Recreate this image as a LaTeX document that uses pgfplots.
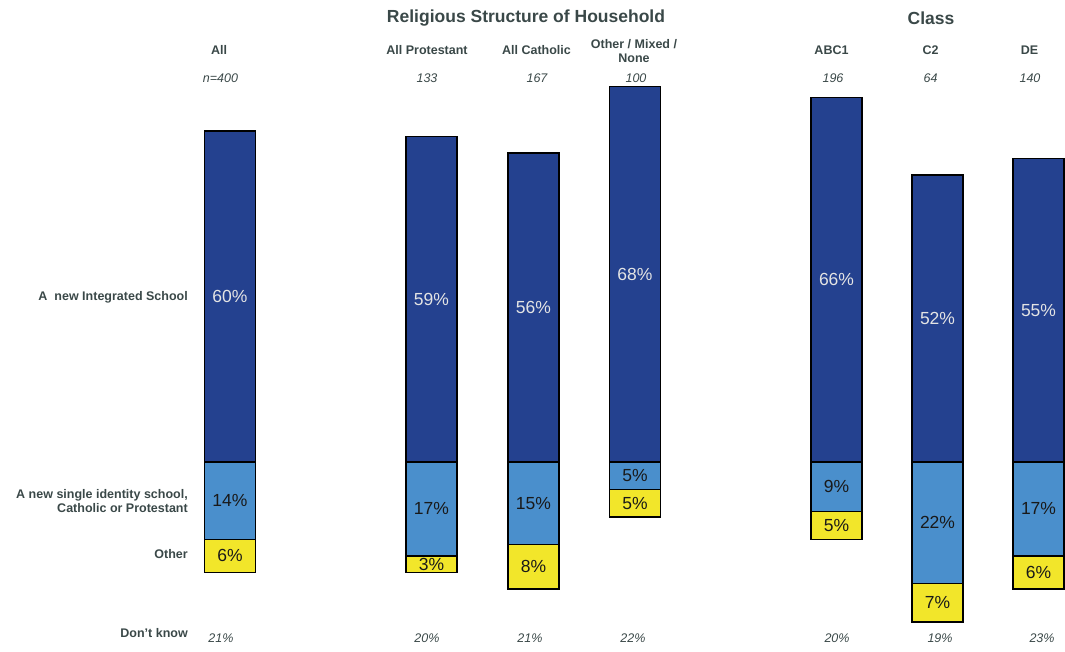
\documentclass[border=0pt]{standalone}
\usepackage{pgfplots}
\pgfplotsset{compat=1.18}
\usepackage{pgfplotstable}
\usepackage{fontspec}
\setmainfont{Liberation Sans}
\definecolor{darkbar}{RGB}{36,65,143}
\definecolor{lightbar}{RGB}{74,143,204}
\definecolor{yellowbar}{RGB}{242,230,42}
\definecolor{txt}{RGB}{58,72,72}
\definecolor{inlab}{RGB}{228,228,228}

\pgfplotstableread{
x      dark light other
230    60   14    6
431.5  59   17    3
533.5  56   15    8
635    68   5     5
836.5  66   9     5
937.5  52   22    7
1038.5 55   17    6
}\datatab

\begin{document}
\begin{tikzpicture}
\begin{axis}[
  at={(0pt,0pt)}, anchor=south west,
  scale only axis, width=1065pt, height=652pt,
  xmin=0, xmax=1065, ymin=-34.42, ymax=83.70,
  hide axis, clip=false,
  bar width=51,
  /pgf/number format/assume math mode=true,
]
% dark blue: new integrated school
\addplot[ybar, bar shift=0pt, fill=darkbar, draw=black, line width=1.4pt]
  table[x=x, y=dark] {\datatab};
% yellow: other (drawn full depth, light blue covers its upper part)
\addplot[ybar, bar shift=0pt, fill=yellowbar, draw=black, line width=1.4pt]
  table[x=x, y expr={-(\thisrow{light}+\thisrow{other})}] {\datatab};
% light blue: single identity
\addplot[ybar, bar shift=0pt, fill=lightbar, draw=black, line width=1.4pt]
  table[x=x, y expr={-\thisrow{light}}] {\datatab};
% labels
\addplot[only marks, mark=none, point meta=explicit,
  nodes near coords={\pgfmathprintnumber{\pgfplotspointmeta}\%},
  every node near coord/.append style={anchor=center, text=inlab, font=\fontsize{17.5}{20}\selectfont}]
  table[x=x, y expr={\thisrow{dark}/2}, meta=dark] {\datatab};
\addplot[only marks, mark=none, point meta=explicit,
  nodes near coords={\pgfmathprintnumber{\pgfplotspointmeta}\%},
  every node near coord/.append style={anchor=center, text=black!90, font=\fontsize{17.5}{20}\selectfont}]
  table[x=x, y expr={-\thisrow{light}/2}, meta=light] {\datatab};
\addplot[only marks, mark=none, point meta=explicit,
  nodes near coords={\pgfmathprintnumber{\pgfplotspointmeta}\%},
  every node near coord/.append style={anchor=center, text=black!90, font=\fontsize{17.5}{20}\selectfont}]
  table[x=x, y expr={-(\thisrow{light}+\thisrow{other}/2)}, meta=other] {\datatab};
\end{axis}

\begin{scope}[x=1pt, y=-1pt, yshift=652pt, every node/.style={text=txt, inner sep=0pt}]
  \begin{scope}[every node/.append style={font=\fontsize{17.5}{20}\selectfont\bfseries}]
    \node at (526,18) {Religious Structure of Household};
    \node at (931,18) {Class};
  \end{scope}
  \begin{scope}[every node/.append style={font=\fontsize{12.5}{14}\selectfont\bfseries}]
    \node at (219,50) {All};
    \node at (427,50) {All Protestant};
    \node at (536.5,50) {All Catholic};
    \node[align=center] at (634,51) {Other / Mixed /\\None};
    \node at (831.5,50) {ABC1};
    \node at (930.5,50) {C2};
    \node at (1029.5,50) {DE};
    \node[anchor=east] at (188,297) {A\ \ new Integrated School};
    \node[anchor=east, align=right] at (188,501) {A new single identity school,\\Catholic or Protestant};
    \node[anchor=east] at (188,554) {Other};
    \node[anchor=east] at (188,633) {Don't know};
  \end{scope}
  \begin{scope}[every node/.append style={font=\fontsize{12.5}{14}\selectfont\itshape}]
    \node at (220.5,78) {n=400};
    \node at (427,78) {133};
    \node at (537,78) {167};
    \node at (636,78) {100};
    \node at (833,78) {196};
    \node at (930.5,78) {64};
    \node at (1030,78) {140};
    \node at (221,638) {21\%};
    \node at (427,638) {20\%};
    \node at (530,638) {21\%};
    \node at (633,638) {22\%};
    \node at (837,638) {20\%};
    \node at (940,638) {19\%};
    \node at (1042,638) {23\%};
  \end{scope}
\end{scope}
\pgfresetboundingbox
\path[use as bounding box] (0pt,0pt) rectangle (1065pt,652pt);
\end{tikzpicture}
\end{document}
